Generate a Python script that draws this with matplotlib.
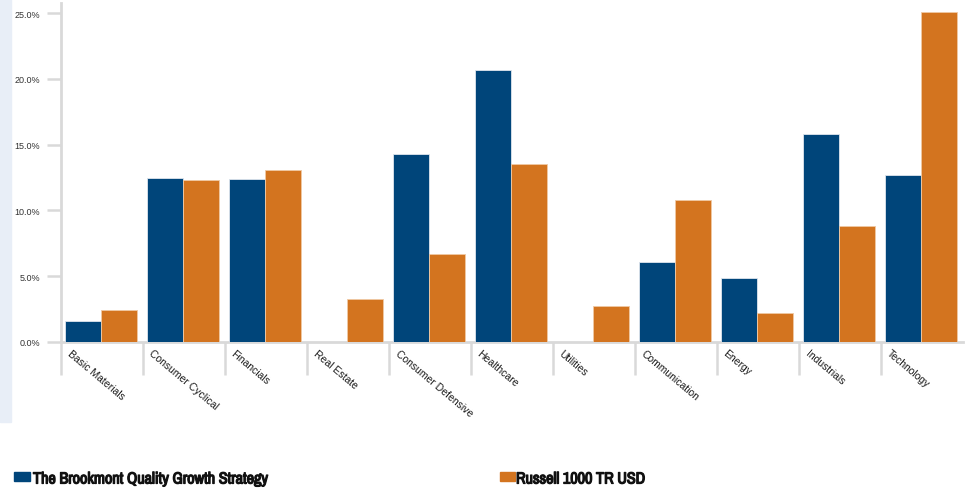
import matplotlib.pyplot as plt
from matplotlib import font_manager
import matplotlib.patheffects as pe
from matplotlib.patches import Rectangle
import numpy as np

sectors = ["Basic Materials", "Consumer Cyclical", "Financials", "Real Estate",
           "Consumer Defensive", "Healthcare", "Utilities", "Communication",
           "Energy", "Industrials", "Technology"]
brookmont = [1.6, 12.5, 12.4, 0.0, 14.3, 20.7, 0.0, 6.1, 4.9, 15.8, 12.7]
russell = [2.4, 12.3, 13.1, 3.3, 6.7, 13.5, 2.7, 10.8, 2.2, 8.8, 25.1]
series_names = ["The Brookmont Quality Growth Strategy", "Russell 1000 TR USD"]
yticks = [0, 5, 10, 15, 20, 25]

navy = "#00457A"
orange = "#D3741F"
grid_grey = "#d9d9d9"

# narrow font for the legend if there is one
names = set(f.name for f in font_manager.fontManager.ttflist)
if "Liberation Sans Narrow" in names:
    legend_family = "Liberation Sans Narrow"
else:
    narrow = sorted(n for n in names if "Narrow" in n or "Condensed" in n)
    legend_family = narrow[0] if narrow else "Liberation Sans"
bold_file = font_manager.findfont(font_manager.FontProperties(family=legend_family, weight="bold"))
has_bold = "bold" in bold_file.lower()
effects = [] if has_bold else [pe.withStroke(linewidth=0.9, foreground="#111111")]

W, H = 965, 489
fig = plt.figure(figsize=(W / 100, H / 100), dpi=100)
fig.patch.set_facecolor("white")

# light blue strip on the left
fig.patches.append(Rectangle((0, 1 - 423 / H), 11 / W, 423 / H,
                             transform=fig.transFigure, color="#e8eef7", zorder=0))

ax = fig.add_axes([61 / W, 1 - 343 / H, (963 - 61) / W, (343 - 4) / H])
x = np.arange(len(sectors))
bw = 0.44
ax.bar(x - bw / 2 - 0.01, brookmont, bw, color=navy, edgecolor="#dfe6ee", linewidth=0.6, zorder=3)
ax.bar(x + bw / 2 - 0.01, russell, bw, color=orange, edgecolor="#f0c9a4", linewidth=0.6, zorder=3)

ax.set_xlim(-0.5, len(sectors) - 0.5)
ax.set_ylim(0, 25.76)

for s in ["top", "right"]:
    ax.spines[s].set_visible(False)
ax.spines["left"].set_color(grid_grey)
ax.spines["left"].set_linewidth(2)
ax.spines["bottom"].set_color(grid_grey)
ax.spines["bottom"].set_linewidth(2)

ax.set_yticks(yticks)
ax.set_yticklabels([f"{v:.1f}%" for v in yticks], fontsize=6.5, color="#333333",
                   family=["Liberation Sans", "DejaVu Sans"])
ax.tick_params(axis="y", length=10, width=1.8, color=grid_grey, pad=5)

ax.set_xticks(x - 0.37)
ax.set_xticklabels(sectors, rotation=-40, ha="left", va="top",
                   rotation_mode="anchor", fontsize=7.5, color="#1a1a1a",
                   family=["Liberation Sans", "DejaVu Sans"])
ax.tick_params(axis="x", which="major", length=0, pad=4)
ax.set_xticks(np.arange(len(sectors)) - 0.5, minor=True)
ax.tick_params(axis="x", which="minor", length=24, width=1.8, color=grid_grey)

# legend
font = dict(family=[legend_family, "DejaVu Sans"], weight="bold", fontsize=11.6,
            color="#111111", path_effects=effects)
fig.patches.append(Rectangle((14 / W, 1 - 482 / H), 16 / W, 9 / H,
                             transform=fig.transFigure, color=navy))
fig.text(33 / W, 1 - 480 / H, series_names[0], ha="left", va="center", **font)
fig.patches.append(Rectangle((500 / W, 1 - 482 / H), 15 / W, 9 / H,
                             transform=fig.transFigure, color=orange))
fig.text(516 / W, 1 - 480 / H, series_names[1], ha="left", va="center", **font)

fig.savefig("out.png", dpi=100)
